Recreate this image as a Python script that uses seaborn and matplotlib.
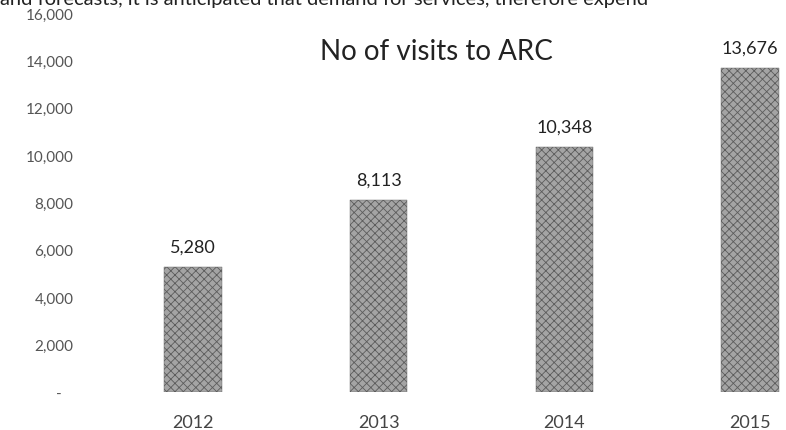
import matplotlib
matplotlib.use("Agg")
import matplotlib.pyplot as plt
import matplotlib.ticker as mticker
import seaborn as sns
import pandas as pd

# ================================
# DATA
# ================================

years = ["2012", "2013", "2014", "2015"]
visits = [5280, 8113, 10348, 13676]
y_ticks = [0, 2000, 4000, 6000, 8000, 10000, 12000, 14000, 16000]

title = "No of visits to ARC"
cut_text = "and forecasts, it is anticipated that demand for services, therefore expend"

df = pd.DataFrame({"Year": years, "Visits": visits})

# ================================
# PLOT
# ================================

sns.set_theme(style="white")
plt.rcParams["font.family"] = ["Lato", "DejaVu Sans"]
plt.rcParams["hatch.linewidth"] = 0.6

fig = plt.figure(figsize=(7.86, 4.31), dpi=100)
ax = fig.add_axes([100 / 786, 38 / 431, 743 / 786, 379 / 431])

sns.barplot(
    data=df, x="Year", y="Visits", ax=ax,
    color="#a4a4a4", width=0.31, saturation=1,
    edgecolor="#5c5c5c", linewidth=0.3, hatch="xxxx",
)

ax.set_ylim(0, 16000)
ax.set_xlim(-0.5, 3.5)
ax.set_yticks(y_ticks)
ax.yaxis.set_major_formatter(
    mticker.FuncFormatter(lambda v, p: f"{v:,.0f}" if v else "-   ")
)
ax.tick_params(axis="y", length=0, pad=19, labelsize=11, labelcolor="#555555")
ax.tick_params(axis="x", length=0, pad=16, labelsize=13, labelcolor="#444444")
ax.set_xlabel("")
ax.set_ylabel("")
sns.despine(ax=ax, left=True, bottom=True)

ax.bar_label(ax.containers[0], labels=[f"{v:,}" for v in visits],
             padding=9, fontsize=13, color="#222222")

# chart title
fig.text(436 / 786, 1 - 52 / 431, title, fontsize=20, color="#222222",
         ha="center", va="center")

# scanned page text cut off at the top (as in the reference)
fig.text(0.0, 1 - 5 / 431, cut_text, fontsize=14.5, va="baseline",
         color="#222222")

fig.savefig("out.png", dpi=100)
